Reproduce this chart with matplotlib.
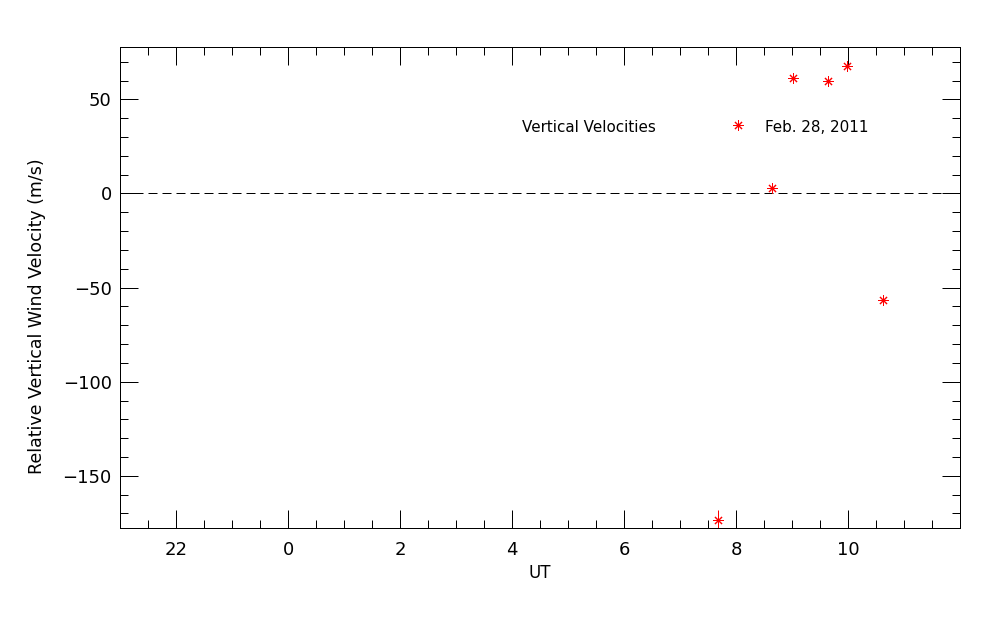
import matplotlib
matplotlib.use('Agg')
from matplotlib import pyplot as plt
from matplotlib.ticker import MultipleLocator

# UT hours, continuous past midnight (24 = 0 UT next day)
ut = [31.67, 32.64, 33.01, 33.63, 33.98, 34.62]
vel = [-173.7, 2.7, 61.1, 60.0, 67.8, -56.5]
err = [5.5, 1.5, 1.5, 1.5, 1.5, 1.5]

xticks = [22, 24, 26, 28, 30, 32, 34]
xticklabels = ['22', '0', '2', '4', '6', '8', '10']

plt.rcParams['font.family'] = ['DejaVu Sans']
lw = 0.72

fig = plt.figure(figsize=(10, 6.25), dpi=100)
ax = fig.add_axes([0.12, 0.1547, 0.8403, 0.7701])

ax.axhline(0, color='black', lw=lw, linestyle=(0, (9, 5)))
ax.errorbar(ut, vel, yerr=err, fmt='none', ecolor='red', elinewidth=lw, capsize=0)
ax.plot(ut, vel, linestyle='none', marker=(8, 2, 0), markersize=7.2,
        markeredgecolor='red', markerfacecolor='red', markeredgewidth=lw)

# legend-like annotation
ax.text(28.18, 35.0, 'Vertical Velocities', fontsize=10.9, va='center', ha='left')
ax.plot([32.03], [36.5], linestyle='none', marker=(8, 2, 0), markersize=7.2,
        markeredgecolor='red', markeredgewidth=lw)
ax.text(32.52, 35.0, 'Feb. 28, 2011', fontsize=10.9, va='center', ha='left')

ax.set_xlim(21, 36)
ax.set_ylim(-177.9, 77.8)
ax.set_xticks(xticks)
ax.set_xticklabels(xticklabels)
ax.xaxis.set_minor_locator(MultipleLocator(0.5))
ax.yaxis.set_major_locator(MultipleLocator(50))
ax.yaxis.set_minor_locator(MultipleLocator(10))

ax.tick_params(which='both', direction='in', top=True, right=True, width=lw,
               labelsize=13)
ax.tick_params(which='major', length=12.7)
ax.tick_params(which='minor', length=6)
ax.tick_params(axis='x', pad=9)
ax.tick_params(axis='y', pad=6)
for s in ax.spines.values():
    s.set_linewidth(lw)

ax.set_xlabel('UT', fontsize=12, labelpad=4)
ax.set_ylabel('Relative Vertical Wind Velocity (m/s)', fontsize=12.5, va='center')
ax.yaxis.set_label_coords(-0.099, 0.441)

fig.savefig('out.png', dpi=100)
